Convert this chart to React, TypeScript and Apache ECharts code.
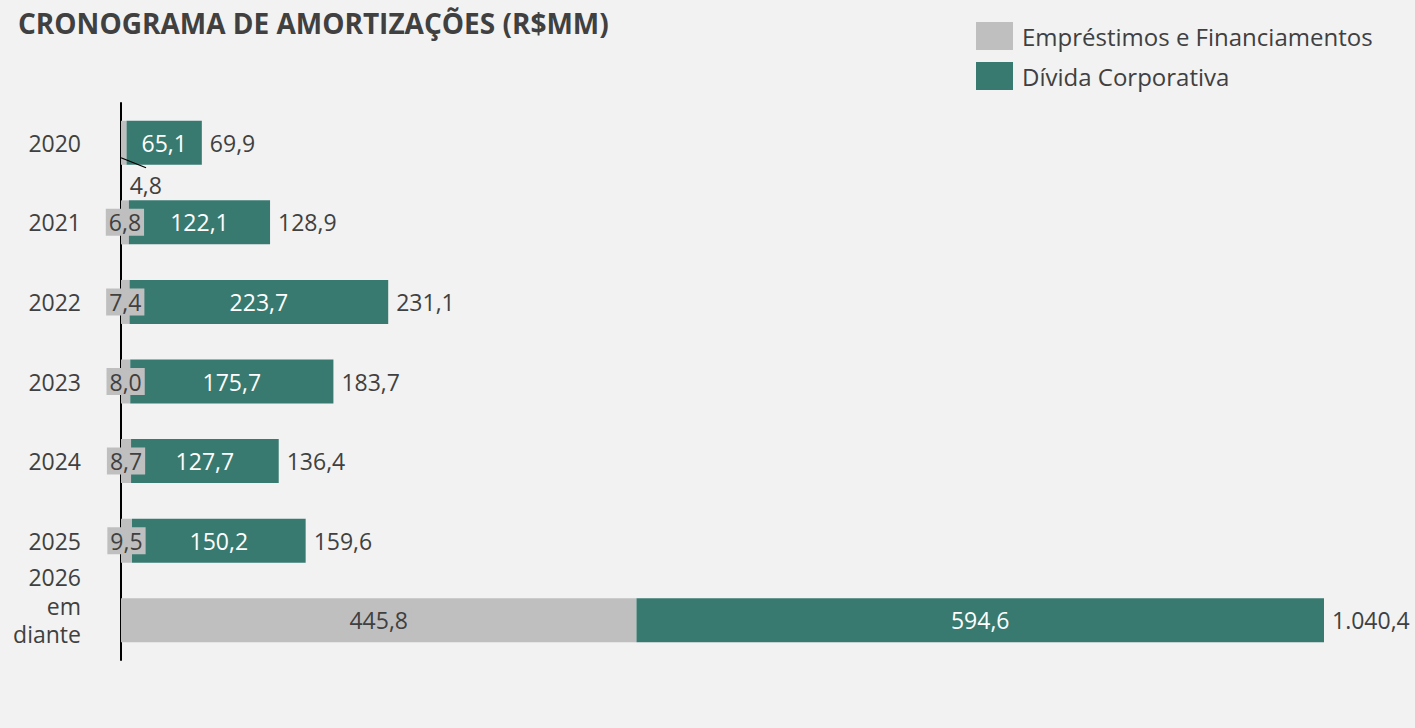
import React, { useEffect, useRef } from "react";
import * as echarts from "echarts";

const categories = ["2020", "2021", "2022", "2023", "2024", "2025", "2026\nem\ndiante"];
const emprestimos = [4.8, 6.8, 7.4, 8.0, 8.7, 9.5, 445.8];
const dividaCorporativa = [65.1, 122.1, 223.7, 175.7, 127.7, 150.2, 594.6];
const totais = [69.9, 128.9, 231.1, 183.7, 136.4, 159.6, 1040.4];
const seriesNames = ["Empréstimos e Financiamentos", "Dívida Corporativa"];

const FONT = "'Open Sans', 'Noto Sans', sans-serif";
const TXT = "#404040";
const GRAY = "#BFBFBF";
const GREEN = "#387A70";

function fmt(v: number): string {
  const [i, d] = v.toFixed(1).split(".");
  return i.replace(/\B(?=(\d{3})+(?!\d))/g, ".") + "," + d;
}

export default function App() {
  const ref = useRef<HTMLDivElement>(null);
  useEffect(() => {
    if (!ref.current) return;
    const chart = echarts.init(ref.current, undefined, { renderer: "svg" });
    chart.setOption({
      animation: false,
      backgroundColor: "#F2F2F2",
      textStyle: { fontFamily: FONT },
      title: {
        text: "CRONOGRAMA DE AMORTIZAÇÕES (R$MM)",
        left: 18,
        top: 9,
        padding: 0,
        textStyle: { fontFamily: FONT, fontWeight: "bold", fontSize: 28, color: TXT },
      },
      legend: {
        data: seriesNames,
        orient: "vertical",
        left: 976,
        top: 22,
        padding: 0,
        itemWidth: 37,
        itemHeight: 28,
        itemGap: 12,
        icon: "rect",
        textStyle: { fontFamily: FONT, fontSize: 24, color: TXT, padding: [0, 0, 0, 4] },
      },
      grid: { left: 121, right: 91, top: 103, bottom: 68, containLabel: false },
      xAxis: { type: "value", min: 0, max: 1040.4, show: false },
      yAxis: {
        type: "category",
        inverse: true,
        data: categories,
        axisLine: { show: true, lineStyle: { color: "#000000", width: 2 } },
        axisTick: { show: false },
        axisLabel: {
          fontFamily: FONT,
          fontSize: 23,
          color: TXT,
          margin: 40,
          lineHeight: 28.5,
          align: "right",
          formatter: (v: string) => (v.indexOf("\n") >= 0 ? v + "\n " : v),
        },
        splitLine: { show: false },
      },
      series: [
        {
          name: seriesNames[0],
          type: "bar",
          stack: "total",
          barWidth: 44,
          itemStyle: { color: GRAY },
          data: emprestimos.map((v, i) =>
            i === 0 ? { value: v, label: { backgroundColor: "transparent" } } : v
          ),
          label: {
            show: true,
            position: "inside",
            fontFamily: FONT,
            fontSize: 23,
            color: TXT,
            backgroundColor: GRAY,
            padding: [2, 3, 2, 3],
            formatter: (p: any) => fmt(p.value),
          },
          labelLayout: (p: any) => (p.dataIndex === 0 ? { dx: 22, dy: 42 } : {}),
        },
        {
          name: seriesNames[1],
          type: "bar",
          stack: "total",
          barWidth: 44,
          itemStyle: { color: GREEN },
          data: dividaCorporativa,
          label: {
            show: true,
            position: "inside",
            fontFamily: FONT,
            fontSize: 23,
            color: "#FFFFFF",
            formatter: (p: any) => fmt(p.value),
          },
        },
        {
          name: "Total",
          type: "bar",
          stack: "total",
          barWidth: 44,
          silent: true,
          itemStyle: { color: "rgba(0,0,0,0)" },
          data: totais.map(() => 0),
          label: {
            show: true,
            position: "right",
            distance: 8,
            fontFamily: FONT,
            fontSize: 23,
            color: TXT,
            formatter: (p: any) => fmt(totais[p.dataIndex]),
          },
        },
      ],
    });
    const p0 = chart.convertToPixel({ gridIndex: 0 }, [0, 0]) as number[];
    chart.setOption({
      graphic: [
        {
          type: "line",
          silent: true,
          z: 100,
          shape: { x1: p0[0], y1: p0[1] + 15, x2: p0[0] + 25, y2: p0[1] + 25 },
          style: { stroke: "#000000", lineWidth: 1.2 },
        },
      ],
    });
    return () => chart.dispose();
  }, []);
  return (
    <div
      ref={ref}
      style={{ position: "absolute", left: 0, top: 0, width: 1415, height: 728 }}
    />
  );
}
